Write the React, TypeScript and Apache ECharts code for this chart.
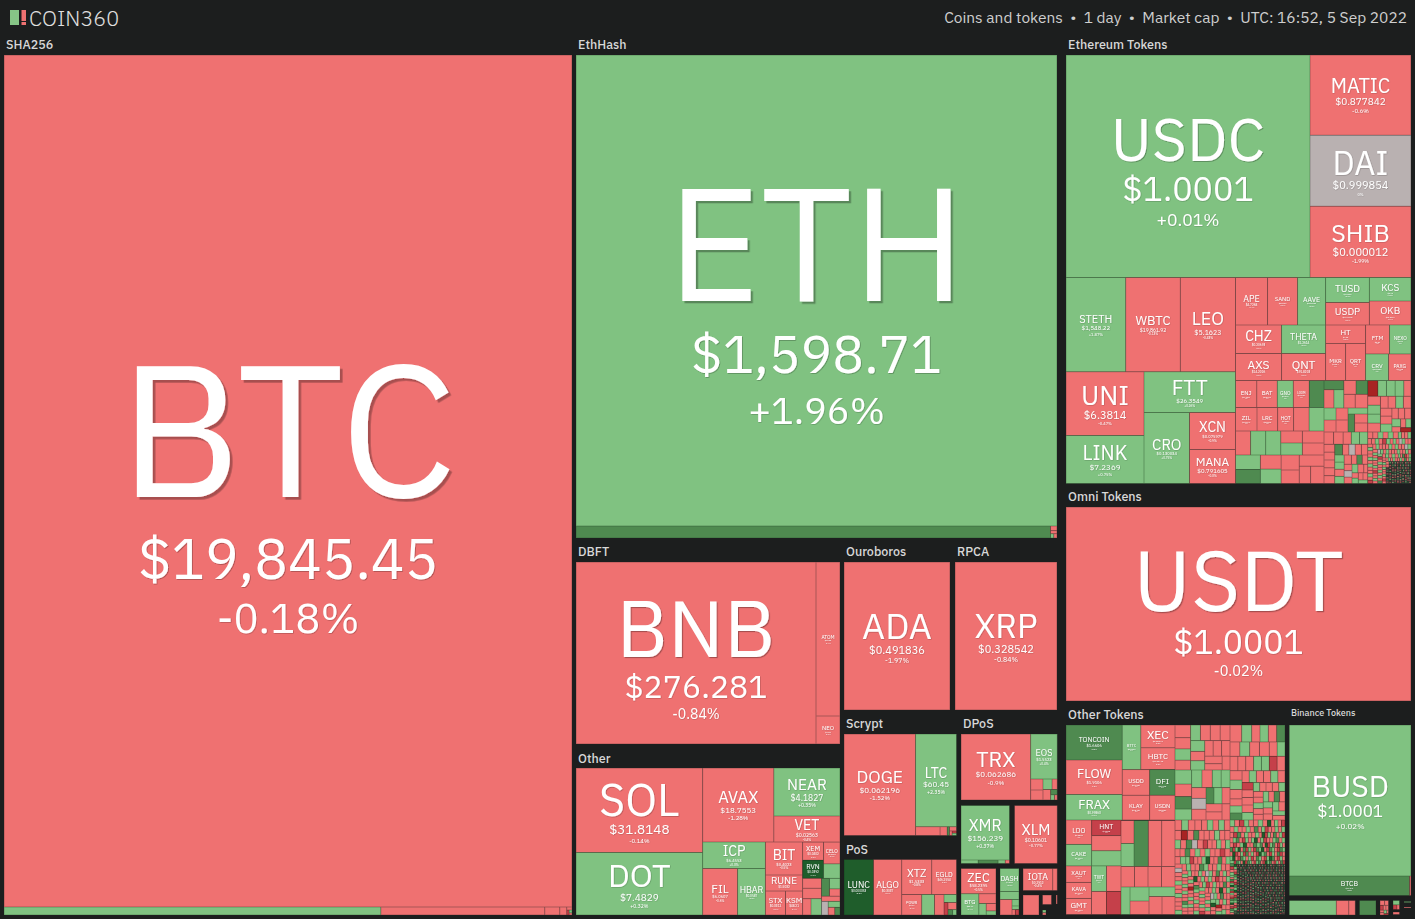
import React, { useEffect, useRef } from "react";
import * as echarts from "echarts";

// ---------- data: leaf = [name, market-cap weight, state] ----------
const shaTree = [["BTC", 483936, "r"], ["BCH", 3016, "g"], ["BSV", 1312, "r"], ["BCD", 120, "r"], ["XEC2", 56, "r"], ["DGB", 16, "r"], ["SC", 12, "x"], ["RVC", 8, "g"], ["NMC", 6, "r"]];
const ethTree = [["ETH", 226551, "g"], ["ETC", 5694, "d"], ["ETHW", 30, "r"], ["ETP", 20, "r"], ["UBQ", 14, "g"], ["EXP", 14, "r"]];
const dbftTree = [["BNB", 43680, "r"], ["ATOM", 3696, "r"], ["NEO", 672, "r"]];
const adaTree = [["ADA", 15688, "r"]];
const xrpTree = [["XRP", 15096, "r"]];
const otherTree = [
  [["SOL", 10668, "r"], ["DOT", 7874, "g"]],
  [
    [["AVAX", 5254, "r"], [["NEAR", 3168, "g"], ["VET", 1716, "r"]]],
    [
      [["ICP", 1643, "g"], [["FIL", 1622, "r"], ["HBAR", 1293, "g"]]],
      [
        [["BIT", 1221, "r"], ["RUNE", 592, "r"], [["STX", 480, "r"], ["KSM", 408, "r"]]],
        [
          [[["XEM", 378, "r"], ["RVN", 378, "D"]], [["CELO", 357, "r"], ["WAVES", 238, "g"]]],
          [
            [["IOST", 187, "r"], ["ONT", 196, "r"], [["ICX", 137, "r"], ["ZRX", 171, "g"]]],
            [[["ZEN", 141, "d"], [["SYS", 110, "g"], ["LSK", 77, "r"]]], [["SCRT", 96, "r"], [["TOMO", 90, "n"], ["DCR", 70, "g"], ["BNX", 50, "r"], ["KDA", 40, "d"]]]],
          ],
        ],
      ],
    ],
  ],
];
const scryptTree = [["DOGE", 7257, "r"], [["LTC", 3792, "g"], [["BEL", 216, "r"], ["DOGX", 63, "r"], ["FLO", 20, "d"], ["VIA", 30, "r"], ["MONA", 12, "r"], ["GRS", 10, "x"], ["NLG", 10, "g"]]]];
const posTree = [["LUNC", 1637, "D"], ["ALGO", 1565, "r"], [[["XTZ", 1050, "r"], ["EGLD", 868, "r"]], [["POWR", 410, "r"], ["PIVX", 262, "g"], ["NAV", 195, "r"], ["QTUM", 100, "g"], ["XVG", 50, "x"], ["ARK", 60, "r"], ["BLK", 25, "d"], ["NXS", 21, "g"]]]];
const trxTree = [["TRX", 4587, "r"], [["EOS", 1197, "g"], [[["WAX", 135, "r"], ["LSK2", 123, "r"]], [[["STEEM", 95, "g"], ["HIVE", 55, "r"]], [["BTS", 80, "r"], ["ARDR", 35, "d"], ["GXC", 20, "g"], ["ZEN2", 15, "r"]]]]]];
const xmrTree = [["XMR", 2643, "g"], ["SCP", 60, "g"], ["ETN", 70, "d"], ["BCN", 25, "g"], ["AEON", 15, "r"]];
const xlmTree = [["XLM", 2482, "r"]];
const zecTree = [["ZEC", 875, "r"], [["BTG", 376, "g"], [["ZCL", 166, "r"], ["KMD", 84, "g"], ["BTCP", 72, "r"], ["ZEL", 40, "g"]]]];
const dashTree = [["DASH", 437, "g"], ["DCR2", 152, "g"], ["PAC", 186, "r"], ["GIN", 45, "g"], ["XZC", 25, "g"], ["ION", 18, "r"], ["CRW", 20, "x"]];
const iotaTree = [["IOTA", 653, "r"], ["NANO2", 101, "r"]];
const nanoTree = [["NANO", 320, "r"]];
const tangleTree = [["BYTE", 86, "r"]];
const sliverTree = [["OBYTE", 12, "r"]];
const tinyTree = [["DAG", 9, "g"], ["HBD", 8, "r"]];

const ethTopTree = [["USDC", 54168, "g"], ["MATIC", 8080, "r"], ["DAI", 7171, "n"], ["SHIB", 7171, "r"]];
const ethLeftTree = [
  [["STETH", 5622, "g"], ["WBTC", 5150, "r"], ["LEO", 5197, "r"]],
  [[["UNI", 4953, "r"], ["LINK", 3744, "g"]], [["FTT", 3706, "g"], [["CRO", 3230, "g"], [["XCN", 1702, "r"], ["MANA", 1564, "r"]]]]],
];
const ethRightTree = [
  [
    [["APE", 1520, "r"], ["SAND", 1425, "r"], ["AAVE", 1330, "g"]],
    [[["CHZ", 1311, "r"], ["AXS", 1242, "r"]], [["THETA", 1254, "g"], ["QNT", 1188, "r"]]],
  ],
  [
    [[["TUSD", 1092, "g"], ["USDP", 983, "r"]], [["KCS", 975, "g"], ["OKB", 996, "r"]]],
    [[["HT", 740, "r"], [["MKR", 740, "r"], ["QRT", 740, "r"]]], [[["FTM", 696, "r"], ["NEXO", 623, "g"]], [["CRV", 610, "g"], ["PAXG", 596, "r"]]]],
  ],
];
const ethRow1Tree = [["ENJ", 585, "r"], ["BAT", 565, "r"], ["GNO", 440, "g"], ["LOOM", 440, "r"], ["BAL", 405, "d"]];
const ethRow2Tree = [["ZIL", 505, "r"], ["LRC", 485, "r"], ["HOT", 375, "r"], ["SNX", 365, "r"], ["COMP", 350, "g"]];
const ethRow3Tree = [["GALA", 360, "r"], ["YFI", 360, "g"], ["ONE", 360, "g"], [[["AMP", 258, "r"], ["RNDR", 258, "g"]], [["GLM", 258, "r"], ["SUSHI", 258, "r"]]]];
const ethRow4Tree = [[["IMX", 358, "g"], ["ENS", 346, "d"]], [["ANKR", 290, "r"], ["ELF", 296, "g"]], [["LPT", 270, "r"], ["1INCH", 243, "r"]], [["SKL", 275, "r"], [["OMG", 195, "r"], ["BNT", 230, "r"]]]];
const ethTLa1Tree = [[["DYDX", 180, "d"], [["IOTX", 180, "r"], ["UMA", 180, "g"]]], [[["GMX", 168, "r"], ["ILV", 160, "d"]], [["POLY", 155, "r"], ["SXP", 170, "r"]]]];
const ethTLa2Tree = [[["CVC", 144, "g"], ["REN", 144, "r"]], [["OCEAN", 144, "r"], ["STORJ", 144, "r"]], [["KNC", 118, "g"], ["NMR", 118, "d"], ["BAND", 118, "r"], ["RLC", 118, "r"]]];

// dense mosaics: one digit per coin (relative market cap), one letter per coin (change class)
const eqTRv = "766655555444444433332222";
const eqTRs = "XgggrggrrgrrrgrrgrrrXgrr";
const eqBLv = "7766655555544444444433333333222222";
const eqBLs = "rrggrdrrrrrrgrggrrnrrgrnrrdrgrrgr";
const eqBRv =
  "888888555555555544444444444444444444444444444444" +
  "3333333333333333333333333333333333333333" +
  "222222222222222222222222222222" +
  "1111111111111111111111111111111111111111111111111111111111" +
  "1111111111111111111111111111111111111111111111111111111111" +
  "111111111111";
const eqBRs =
  "rgrgrrgxrgrrgrrgrgnrrgrgrrrgrxrgrrgrgrrgrrrgnrgrrgrgrdrgr" +
  "grrgrxgrgrrgrrrgrgnrgrrxrgrrgrgrrgrdrgrrgrgrrxrgrrgrgrrgr" +
  "xdrgrDrxgrdgrxrdgrDxrgdrxgrDrdxrgdrxgrdrxgDrxrdgrxgdrDxrg" +
  "drxgrDrdxrgdrxDgrdrxgDrxrdgrxgdrDxrgdrxgrDrdxrgdrxDgrdrxg" +
  "DrxrdgrxgdrDxrgdrxgrDrdxrgdrxDgrdrxgDrxrdgrxgdrDxrgd";

const o1v = "98877777766666655";
const o1s = "rgrgrrrgrrrrrgrrr";
const o2v = "98877766666555555";
const o2s = "gdrrggrnrggrrrrgd";
const o3v = "765555555544444444444433333333333333222222222222222222222";
const o3s = "rgrrgrdrgrrgrrxggrrrgrgrrrxrgrrgrdgrrgrgrrgrdrgrrgrrgrrrg";
const o4v =
  "7777666666665555555555554444444444444444444333333333333333333" +
  "3333333333333333222222222222222222222222222222222222222222222" +
  "2222222222222222222222222222222222222222222222222222222222222";
const o4s =
  "rrgrrXrrgrgrrndrgrrgrrrdgrrxrrgrgrdrrgrgrrxrrgrrgdrrgrgrrrgr" +
  "rgrrnrgrdrrDgrrxgrgrrgrXrgrgrrDgrrdrgnrgrgrrgrDrgrrxrgrrgrgrd" +
  "rrgrxgrgrrgrrgdrgrrxrgrgrDrrgrgrrXrgrrgrdrgnrgrrgrrgdrrgrg";
const o5v =
  "888888886666666666665555555555555555444444444444444444444444" +
  "444444444444333333333333333333333333333333333333333333333333" +
  "333333333333333333333333333333222222222222222222222222222222" +
  "222222222222222222222222222222211111111111111111111111111111" +
  "111111111111111111111111111111111111111111111111111111111111" +
  "111111111111111111111111111111111111111111111111111111111111" +
  "111111111111111111111111111111111111111111111111111111111111" +
  "111111111111111111111111111111111111111111111111111111111111" +
  "111111111111111111111111111111111111111111111111111111111111" +
  "111111111111111111111111111111111111111111111111111111111111" +
  "111111111111111111111111111111111111111111111111111111111111" +
  "111111111111111111111111111111111111111111111111111111111111" +
  "111111111111111111111111111111111111111111111111111111111111" +
  "111111111111111111111111111111111111111111111111111111111111";
const o5s =
  "rgrrgxrgdrgrrgrxrgrDgrrgrdxrgrgrrxgrgdrrDgrxrgrdgrrxgrDgrgxr" +
  "dgrxgrdrgxDrgrxdgrgxrdDgxrgdrxgrgdxrDgrxdrgxrdgDxrgrdxgrxDrg" +
  "dxrgdxrDgdxrgxdrDgxdrgxrdgxDrdgxrgdxrDgdxrgdxrgDxdrgxrdgDxrd" +
  "gxrgdxDrgdxrgdxrDgdxrgxdrDgxdrgxrdgxDrdgxrgdxrDgdxrgdxrgDxdr" +
  "gdDxgdxrgDdxgrdDxdgxrDdgxdrgDxdgDrxdgdxDrgdDxgdxrgDdxgrdDxdg" +
  "xrDdgxdrgDxdgDrxdgdxDrgdDxgdxrgDdxgrdDxdgxrDdgxdrgDxdgDrxdgd" +
  "xDrgdDxgdxrgDdxgrdDxdgxrDdgxdrgDxdgDrxdgdxDrgdDxgdxrgDdxgrdD" +
  "xdgxrDdgxdrgDxdgDrxdgdxDrgdDxgdxrgDdxgrdDxdgxrDdgxdrgDxdgDrx";

const omniTree = [["USDT", 66930, "r"]];
const otherTokensA = [
  [["TONCOIN", 1960, "d"], ["FLOW", 1932, "r"], ["FRAX", 1428, "g"]],
  [[["BTTC", 823, "g"], [["XEC", 776, "r"], ["HBTC", 742, "r"]]], [[["USDD", 701, "r"], ["KLAY", 674, "r"]], [["DFI", 650, "d"], ["USDN", 625, "r"]]]],
];
const otherTokensB = [
  [[["LDO", 625, "r"], ["CAKE", 548, "g"]], [["HNT", 457, "x"], ["GUSD", 445, "r"], ["AR", 445, "g"]]],
  [[["XAUT", 421, "r"], ["KAVA", 408, "r"], ["GMT", 408, "r"]], [[["TWT", 383, "g"], ["NFT", 370, "r"]], [["BORA", 345, "r"], ["MINA", 334, "x"]]]],
];
const otherTokensC1 = [["FEI", 299, "r"], ["XDC", 299, "g"]];
const otherTokensC2 = [["FXS", 644, "d"], ["GT", 598, "r"], ["TFUEL", 598, "r"]];
const otherTokensR1 = [["CEL", 277, "r"], ["LUSD", 277, "r"], ["BTG2", 277, "r"], ["RON", 277, "r"]];
const otherTokensR2 = [["ROSE", 248, "g"], [["AUDIO", 266, "g"], ["XYM", 256, "r"]], [["JST", 247, "g"], [["CSPR", 234, "r"], ["ASTR", 234, "r"]]]];

const binanceTree = [["BUSD", 18377, "g"], [["BTCB", 2344, "d"], ["VAI", 29, "r"]]];
const bnbStripTree = [["TWTB", 673, "g"], ["BAKE", 178, "r"], ["ALPHA", 94, "r"]];
const bnbDarkTree = [["BETH", 239, "d"]];
const bnbMosaicV = "7654433322";
const bnbMosaicS = "rrxrrgrrxr";
const bnbSmallTree = [["SFP", 28, "g"], ["XVS", 18, "x"], ["TKO", 12, "r"]];
const bnbLineTree = [["LINA", 7, "g"]];
const bnbDotTree = [["DODO", 8, "r"]];

const quotes: Record<string, [string, string]> = {
  BTC: ["$19,845.45", "-0.18%"], ETH: ["$1,598.71", "+1.96%"], USDC: ["$1.0001", "+0.01%"], USDT: ["$1.0001", "-0.02%"], BNB: ["$276.281", "-0.84%"],
  ADA: ["$0.491836", "-1.97%"], XRP: ["$0.328542", "-0.84%"], SOL: ["$31.8148", "-0.14%"], DOT: ["$7.4829", "+0.32%"], AVAX: ["$18.7553", "-1.28%"],
  NEAR: ["$4.1827", "+0.35%"], VET: ["$0.02563", "-0.4%"], ICP: ["$6.4553", "+0.3%"], FIL: ["$6.0607", "-0.6%"], HBAR: ["$0.0587", "+0.2%"], BIT: ["$0.4023", "-0.5%"],
  RUNE: ["$1.5032", "-0.8%"], STX: ["$0.3312", "-0.7%"], KSM: ["$48.21", "-0.4%"], XEM: ["$0.0402", "-0.3%"], CELO: ["$0.8121", "-0.9%"], RVN: ["$0.0392", "+6.1%"],
  ATOM: ["$13.52", "-0.4%"], NEO: ["$9.32", "-0.7%"],
  DOGE: ["$0.062196", "-1.52%"], LTC: ["$60.45", "+2.35%"], TRX: ["$0.062686", "-0.9%"], EOS: ["$1.5523", "+0.4%"], XMR: ["$156.239", "+0.37%"], XLM: ["$0.10601", "-0.77%"],
  ZEC: ["$58.2395", "-0.5%"], BTG: ["$23.11", "+0.4%"], DASH: ["$45.32", "+0.3%"], IOTA: ["$0.2912", "-0.4%"],
  LUNC: ["$0.000353", "+8.2%"], ALGO: ["$0.3037", "-0.9%"], XTZ: ["$1.5333", "-0.8%"], EGLD: ["$46.2554", "-0.5%"], POWR: ["$0.19", "-0.4%"],
  MATIC: ["$0.877842", "-0.6%"], DAI: ["$0.999854", "0%"], SHIB: ["$0.000012", "-1.99%"], STETH: ["$1,548.22", "+1.87%"], WBTC: ["$19,861.92", "-0.13%"], LEO: ["$5.1623", "-0.43%"],
  UNI: ["$6.3814", "-0.47%"], LINK: ["$7.2369", "+0.75%"], FTT: ["$26.3549", "+0.26%"], CRO: ["$0.130034", "+0.75%"], XCN: ["$0.075979", "-0.9%"], MANA: ["$0.791605", "-0.3%"],
  APE: ["$4.7268", "-0.4%"], SAND: ["$0.8607", "-0.5%"], AAVE: ["$82.5525", "+0.2%"], CHZ: ["$0.20693", "-0.6%"], THETA: ["$1.2614", "+0.5%"], AXS: ["$14.2026", "-0.3%"], QNT: ["$91.8203", "-0.7%"],
  TUSD: ["$1.0002", "+0.1%"], KCS: ["$8.95", "+0.2%"], USDP: ["$0.999937", "-0.1%"], OKB: ["$15.2784", "-0.4%"], HT: ["$4.32", "-0.2%"], MKR: ["$702.4", "-0.6%"], QRT: ["$0.12", "-0.3%"],
  FTM: ["$0.27", "-0.5%"], NEXO: ["$0.81", "+0.3%"], CRV: ["$0.87527", "+0.7%"], PAXG: ["$1,712", "-0.1%"],
  ENJ: ["$0.4836", "-0.7%"], BAT: ["$0.3011", "-0.4%"], GNO: ["$121.3", "+0.5%"], LOOM: ["$0.0521", "-0.6%"], ZIL: ["$0.0341", "-0.3%"], LRC: ["$0.3212", "-0.5%"], HOT: ["$0.0021", "-0.8%"],
  BUSD: ["$1.0001", "+0.02%"], BTCB: ["$19,840", "-0.2%"], TONCOIN: ["$1.6606", "+8.5%"], FLOW: ["$1.9106", "-1.2%"], FRAX: ["$0.99863", "+0.1%"], BTTC: ["$0.0000", "+0.4%"],
  XEC: ["$0.000041", "-0.3%"], HBTC: ["$19,854.18", "-0.3%"], USDD: ["$0.9988", "-0.1%"], DFI: ["$0.6112", "+5.1%"], KLAY: ["$0.2423", "-0.7%"], USDN: ["$0.9821", "-0.2%"],
  LDO: ["$1.8232", "-0.8%"], HNT: ["$4.3812", "-3.1%"], CAKE: ["$3.9127", "+0.5%"], XAUT: ["$1,702", "-0.3%"], KAVA: ["$1.7721", "-0.9%"], GMT: ["$0.6521", "-0.6%"], TWT: ["$0.93", "+0.4%"],
};

// text sizes of each labelled tile: name, price, change, tile height, vertical nudge, extra gap under the name
const labelSizes: Record<string, number[]> = {
  BTC: [187, 56.3, 42, 852, 6, 7], ETH: [160, 53, 38, 471, 6, 3], USDC: [60.5, 34, 17.5, 222, 3], USDT: [85, 33.7, 14.5, 194, 3.5], BNB: [79, 32, 14, 182, 1.5, 2], ADA: [36, 11, 7, 148], XRP: [34, 11, 7, 148],
  SOL: [45, 13.5, 6, 84], DOT: [32.5, 10, 5, 62], AVAX: [16.5, 8, 6, 74], NEAR: [15.5, 8.5, 5, 48], VET: [14, 5, 3, 26], ICP: [14, 4, 3, 26], FIL: [12, 4, 3, 47], HBAR: [9, 3, 2, 47], BIT: [14, 4, 3, 33],
  RUNE: [10, 3, 2, 16], STX: [8, 3, 2, 24], KSM: [8, 3, 2, 24], XEM: [7, 3, 2, 18], CELO: [5, 2, 2, 21], RVN: [7, 3, 2, 18], ATOM: [5, 2, 2, 154], NEO: [6, 2, 2, 28],
  DOGE: [17.5, 8, 6, 101], LTC: [14, 8, 5, 92], TRX: [21.5, 8, 6, 66], EOS: [9, 4, 3, 45], XMR: [16, 8, 5, 54], XLM: [15, 5, 4, 58], ZEC: [12.5, 4, 3, 25], BTG: [6, 2, 2, 21], DASH: [7, 2, 2, 23], IOTA: [9, 3, 3, 22],
  LUNC: [9, 3, 2, 55], ALGO: [9, 3, 2, 55], XTZ: [11, 4, 3, 35], EGLD: [7, 3, 2, 35], POWR: [4, 2, 2, 20],
  MATIC: [20, 10, 6, 80], DAI: [33, 11, 4, 71], SHIB: [25, 11, 5, 71], STETH: [11, 6, 4, 94], WBTC: [13, 5, 3, 94], LEO: [18, 7, 3, 94], UNI: [27, 11, 4, 63], LINK: [20, 8, 4, 48], FTT: [21, 6, 3, 40],
  CRO: [15, 4, 3, 71], XCN: [14, 4, 3, 37], MANA: [12, 6, 3, 34], APE: [9, 3, 2, 47], SAND: [6, 2, 2, 47], AAVE: [7, 2, 2, 47], CHZ: [14, 3, 2, 28], THETA: [9, 3, 2, 28], AXS: [12, 3, 2, 27], QNT: [12, 3, 2, 27],
  TUSD: [10, 2, 2, 25], KCS: [10, 2, 2, 23], USDP: [10, 2, 2, 22], OKB: [10, 2, 2, 24], HT: [8, 2, 2, 18], MKR: [6, 2, 1, 37], QRT: [6, 2, 1, 37], FTM: [6, 2, 1, 29], NEXO: [5, 2, 1, 29], CRV: [6, 2, 1, 26], PAXG: [5, 2, 1, 26],
  ENJ: [6, 2, 1, 27], BAT: [6, 2, 1, 27], GNO: [5, 2, 1, 27], LOOM: [3, 2, 1, 27], ZIL: [6, 2, 1, 23], LRC: [6, 2, 1, 23], HOT: [5, 2, 1, 23],
  BUSD: [30, 17, 8, 151], BTCB: [7, 2, 2, 19], TONCOIN: [7, 4, 2, 35], FLOW: [13, 4, 2, 34], FRAX: [13, 3, 2, 25], BTTC: [4, 2, 1, 44], XEC: [12, 2, 2, 22], HBTC: [8, 2, 2, 21], USDD: [6, 2, 1, 25], DFI: [8, 2, 1, 25],
  KLAY: [6, 2, 1, 24], USDN: [6, 2, 1, 24], LDO: [7, 2, 1, 24], HNT: [7, 2, 1, 15], CAKE: [6, 2, 1, 21], XAUT: [6, 2, 1, 16], KAVA: [6, 2, 1, 16], GMT: [8, 2, 1, 16], TWT: [5, 2, 1, 25],
};

const titles: [string, number, number, number][] = [
  ["SHA256", 6, 44, 12.5], ["EthHash", 578, 44, 12.5], ["Ethereum Tokens", 1068, 44, 12.5], ["Omni Tokens", 1068, 496, 12.5], ["DBFT", 578, 551, 12.5], ["Ouroboros", 846, 551, 12.5], ["RPCA", 957, 551, 12.5],
  ["Other", 578, 758, 12.5], ["Scrypt", 846, 723, 12.5], ["DPoS", 963, 723, 12.5], ["PoS", 846, 849, 12.5], ["Other Tokens", 1068, 714, 12.5], ["Binance Tokens", 1291, 712, 9],
];

const headerRight = "Coins and tokens  \u2022  1 day  \u2022  Market cap  \u2022  UTC: 16:52, 5 Sep 2022";
const dominance = "Dominance: 37.43%";

// ---------- styles ----------
const BG = "#1c1e1e";
const FONT = "'IBM Plex Sans', Roboto, 'Noto Sans', sans-serif";
const fills: Record<string, string> = { r: "#ef7171", g: "#80c281", d: "#4f8a50", D: "#1f5d2b", x: "#c5404a", X: "#a82323", n: "#b9b1b1" };
const edges: Record<string, string> = { r: "#a85757", g: "#5c955c", d: "#3f6f40", D: "#184a22", x: "#8a3030", X: "#7a1a1a", n: "#8a8585" };
const LONG = 1e-6; // every cut crosses the long side
const SHORT = 1e6; // all children share the short side

function mosaic(prefix: string, v: string, s: string) {
  return v.split("").map((c, i) => [prefix + i, Number(c), s[i % s.length], c === "1"]);
}

function leafLabel(name: string) {
  const q = quotes[name];
  const z = labelSizes[name];
  if (!q || !z) return { show: false };
  const [s1, s2, s3, cell, nudge = 0, gap = 0] = z;
  const h1 = s1 + gap, h2 = s2 * 1.18, h3 = s3 * 1.3;
  const top = Math.max(0, (cell - (h1 + h2 + h3)) / 2 + nudge);
  const tok = (size: number, lh: number, weight: number) => ({
    fontFamily: FONT, fontSize: size, lineHeight: lh, fontWeight: weight, color: "#fff", align: "center",
    textShadowColor: "rgba(0,0,0,0.3)", textShadowBlur: 1, textShadowOffsetX: Math.max(0.4, size / 70), textShadowOffsetY: Math.max(0.4, size / 70),
  });
  return {
    show: true, position: "inside", align: "center", verticalAlign: "middle", overflow: "none", padding: [top, 0, 0, 0],
    formatter: `{a|${name}}\n{b|${q[0]}}\n{c|${q[1]}}`,
    rich: { a: tok(s1, h1, 400), b: tok(s2, h2, 400), c: tok(s3, h3, 400) },
  };
}

function toNode(n: any): any {
  if (typeof n[0] === "string") {
    return {
      name: n[0], value: n[1],
      itemStyle: { color: fills[n[2]], borderColor: n[3] ? "#343c36" : edges[n[2]], borderWidth: 0.5, gapWidth: 0 },
      label: leafLabel(n[0]),
    };
  }
  return { name: "", children: n.map(toNode), itemStyle: { borderWidth: 0, gapWidth: 0, borderColor: "transparent", color: "transparent" }, label: { show: false } };
}

const blocks: any[] = [
  { d: shaTree, x: 4, y: 55, w: 568, h: 860, r: LONG },
  { d: ethTree, x: 576, y: 55, w: 481, h: 483, r: LONG },
  { d: dbftTree, x: 576, y: 562, w: 264, h: 182, r: LONG },
  { d: adaTree, x: 844, y: 562, w: 106, h: 148, r: LONG },
  { d: xrpTree, x: 955, y: 562, w: 102, h: 148, r: LONG },
  { d: otherTree, x: 576, y: 768, w: 264, h: 147, r: LONG },
  { d: scryptTree, x: 844, y: 734, w: 112.5, h: 101.5, r: LONG },
  { d: posTree, x: 844, y: 859.5, w: 112.5, h: 55.5, r: LONG },
  { d: trxTree, x: 961, y: 734, w: 96.3, h: 66, r: LONG },
  { d: xmrTree.slice(0, 1), x: 961, y: 805.5, w: 48.5, h: 54.5, r: LONG },
  { d: xmrTree.slice(1), x: 961, y: 860, w: 48.5, h: 3.5, r: LONG },
  { d: xlmTree, x: 1014.5, y: 805.5, w: 42.8, h: 58, r: LONG },
  { d: zecTree, x: 961, y: 868.5, w: 35, h: 46.5, r: LONG },
  { d: dashTree, x: 1000, y: 868.5, w: 19, h: 46.5, r: LONG },
  { d: iotaTree, x: 1023, y: 868.5, w: 34.3, h: 22, r: LONG },
  { d: nanoTree, x: 1023, y: 895, w: 16, h: 20, r: LONG },
  { d: tangleTree, x: 1042.5, y: 895, w: 9, h: 9.5, r: LONG },
  { d: sliverTree, x: 1056, y: 895, w: 1.3, h: 9, r: LONG },
  { d: tinyTree, x: 1042.5, y: 910, w: 3.5, h: 5, r: LONG },
  { d: ethTopTree, x: 1066, y: 55, w: 345, h: 222.5, r: LONG },
  { d: ethLeftTree, x: 1066, y: 277.5, w: 169.5, h: 206, r: LONG },
  { d: ethRightTree, x: 1235.5, y: 277.5, w: 175.5, h: 103, r: LONG },
  { d: ethRow1Tree, x: 1235.5, y: 380.5, w: 88.5, h: 27, r: LONG },
  { d: ethRow2Tree, x: 1235.5, y: 407.5, w: 88.5, h: 23.5, r: LONG },
  { d: ethRow3Tree, x: 1235.5, y: 431, w: 88.5, h: 24, r: LONG },
  { d: ethRow4Tree, x: 1235.5, y: 455, w: 88.5, h: 28.5, r: LONG },
  { d: ethTLa1Tree, x: 1324, y: 380.5, w: 43.7, h: 27.5, r: LONG },
  { d: ethTLa2Tree, x: 1324, y: 408, w: 43.7, h: 24, r: LONG },
  { d: mosaic("eTR", eqTRv, eqTRs), x: 1367.7, y: 380.5, w: 43.3, h: 51.5 },
  { d: mosaic("eBL", eqBLv, eqBLs), x: 1324, y: 432, w: 43.7, h: 51.5 },
  { d: mosaic("eBR", eqBRv, eqBRs), x: 1367.7, y: 432, w: 43.3, h: 51.5 },
  { d: omniTree, x: 1066, y: 507, w: 345, h: 194, r: LONG },
  { d: otherTokensA, x: 1066, y: 725, w: 109, h: 95, r: LONG },
  { d: otherTokensB, x: 1066, y: 820, w: 55, h: 94.5, r: LONG },
  { d: otherTokensC1, x: 1121, y: 820.5, w: 13, h: 46, r: LONG },
  { d: otherTokensC2, x: 1134, y: 820.5, w: 41, h: 46, r: SHORT },
  { d: otherTokensR1, x: 1121, y: 866.5, w: 54, h: 20.5, r: LONG },
  { d: otherTokensR2, x: 1121, y: 887, w: 54, h: 27.5, r: LONG },
  { d: mosaic("o1", o1v, o1s), x: 1175, y: 725, w: 55, h: 45 },
  { d: mosaic("o2", o2v, o2s), x: 1175, y: 770, w: 55, h: 50 },
  { d: mosaic("o3", o3v, o3s), x: 1230, y: 725, w: 55, h: 95 },
  { d: mosaic("o4", o4v, o4s), x: 1175, y: 820, w: 55, h: 94.5 },
  { d: mosaic("o5", o5v, o5s), x: 1230, y: 820, w: 55, h: 94.5 },
  { d: binanceTree, x: 1289.3, y: 725, w: 121.7, h: 170.5, r: LONG },
  { d: bnbStripTree, x: 1289.3, y: 900.5, w: 66, h: 14.5, r: LONG },
  { d: bnbDarkTree, x: 1359.5, y: 900.5, w: 16.5, h: 14.5, r: LONG },
  { d: mosaic("bm", bnbMosaicV, bnbMosaicS), x: 1380, y: 900.5, w: 8.5, h: 14.5 },
  { d: bnbSmallTree, x: 1393, y: 900.5, w: 6.5, h: 9, r: LONG },
  { d: bnbDotTree, x: 1393, y: 912, w: 6.5, h: 2.5, r: LONG },
  { d: bnbLineTree, x: 1404, y: 901.5, w: 7, h: 1, r: LONG },
  { d: bnbDotTree, x: 1404, y: 907, w: 7, h: 1, r: LONG },
];

function buildOption() {
  const series = blocks.map((b) => ({
    type: "treemap",
    left: b.x, top: b.y, width: b.w, height: b.h,
    ...(b.r ? { squareRatio: b.r, sort: false } : { sort: "desc" }),
    roam: false, nodeClick: false, silent: true, visibleMin: 0, animation: false,
    breadcrumb: { show: false },
    label: { show: false }, upperLabel: { show: false },
    itemStyle: { borderWidth: 0, gapWidth: 0, borderColor: "transparent" },
    data: b.d.map(toNode),
  }));
  const graphic: any[] = [
    { type: "rect", shape: { x: 10, y: 10, width: 9, height: 15 }, style: { fill: "#86c586" } },
    { type: "rect", shape: { x: 21.5, y: 10, width: 4.5, height: 11 }, style: { fill: "#ef7171" } },
    { type: "rect", shape: { x: 21.5, y: 22, width: 4.5, height: 3 }, style: { fill: "#ef7171" } },
    { type: "text", x: 29, y: 18, style: { text: "COIN360", fontFamily: FONT, fontSize: 21.5, fontWeight: 300, fill: "#e0e0e0", verticalAlign: "middle" } },
    { type: "text", x: 1407, y: 17, style: { text: headerRight, align: "right", verticalAlign: "middle", fontFamily: FONT, fontSize: 15.5, fontWeight: 400, fill: "#cfcfcf" } },
    { type: "text", x: 288, y: 886, style: { text: dominance, align: "center", verticalAlign: "middle", fontFamily: FONT, fontSize: 15, fontWeight: 400, fill: "rgba(255,255,255,0.85)" } },
  ];
  titles.forEach(([t, x, y, s]) => {
    graphic.push({ type: "text", x, y, style: { text: t, verticalAlign: "middle", fontFamily: FONT, fontSize: s, fontWeight: 500, fill: "#d8d8d8" } });
  });
  return { backgroundColor: BG, animation: false, series, graphic };
}

export default function App() {
  const ref = useRef<HTMLDivElement>(null);
  useEffect(() => {
    document.body.style.margin = "0";
    document.body.style.background = BG;
    const chart = echarts.init(ref.current!, undefined, { renderer: "svg" });
    chart.setOption(buildOption() as any);
    return () => chart.dispose();
  }, []);
  return <div ref={ref} style={{ width: 1415, height: 919 }} />;
}
